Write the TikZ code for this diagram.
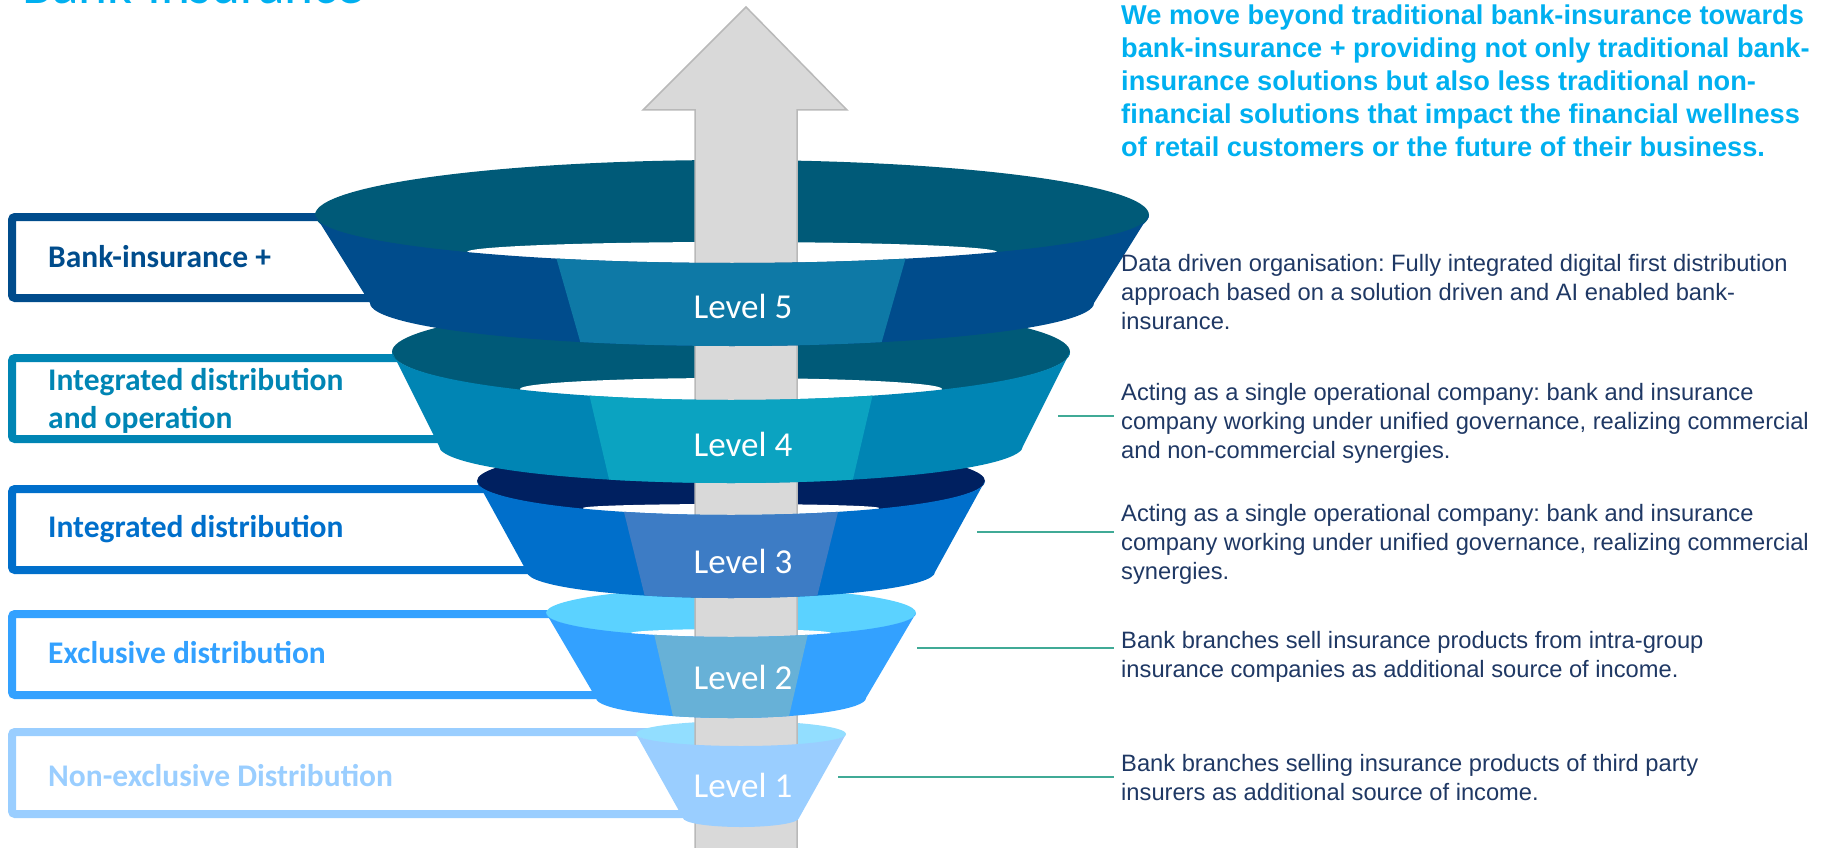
\documentclass[tikz,border=0pt]{standalone}
\usepackage{fontspec}
\setmainfont{Liberation Sans}
\newfontfamily\carlito{Carlito}
\frenchspacing
\definecolor{skyblue}{RGB}{0,176,240}
\definecolor{descnavy}{RGB}{31,56,100}
\definecolor{linkteal}{RGB}{64,170,150}
\definecolor{arrowfill}{RGB}{217,217,217}
\definecolor{arrowline}{RGB}{185,185,185}
\definecolor{topfive}{RGB}{0,90,120}
\definecolor{sidefive}{RGB}{0,76,140}
\definecolor{midfive}{RGB}{14,121,166}
\definecolor{topfour}{RGB}{0,90,120}
\definecolor{sidefour}{RGB}{0,133,180}
\definecolor{midfour}{RGB}{11,163,193}
\definecolor{topthree}{RGB}{0,32,96}
\definecolor{sidethree}{RGB}{0,111,203}
\definecolor{midthree}{RGB}{61,124,197}
\definecolor{toptwo}{RGB}{91,210,255}
\definecolor{sidetwo}{RGB}{51,161,255}
\definecolor{midtwo}{RGB}{103,177,215}
\definecolor{topone}{RGB}{146,222,255}
\definecolor{sideone}{RGB}{154,206,255}
\begin{document}
\begin{tikzpicture}[x=1pt,y=-1pt,
  lvlbox/.style={line width=8pt,rounded corners=3pt},
  lvltext/.style={anchor=base west,inner sep=0pt,align=left,font=\carlito\bfseries\fontsize{31.5}{38}\selectfont},
  lvlname/.style={anchor=base,inner sep=0pt,text=white,font=\carlito\fontsize{35}{42}\selectfont},
  desc/.style={anchor=base west,inner sep=0pt,align=left,text=descnavy,font=\fontsize{23.7}{29}\selectfont},
  link/.style={draw=linkteal,line width=1.5pt}]
 \useasboundingbox (0,0) rectangle (1834,848);
 \clip (0,0) rectangle (1834,848);
 % boxes behind the funnel
 \draw[lvlbox,draw=sidefive](12,217) rectangle (700,298);
 \draw[lvlbox,draw=sidefour](12,358) rectangle (700,439);
 \draw[lvlbox,draw=sidethree](12,489) rectangle (700,570);
 \draw[lvlbox,draw=sidetwo](12,614) rectangle (700,695);
 \draw[lvlbox,draw=sideone](12,732) rectangle (700,814);
 % tops of the rings
 \fill[topfive](732,215) ellipse [x radius=417pt,y radius=55pt];
 \fill[white](467,252) arc[start angle=180,end angle=0,x radius=265pt,y radius=10pt] arc[start angle=0,end angle=-180,x radius=265pt,y radius=19pt] -- cycle;
 \fill[topfour](731,352) ellipse [x radius=339pt,y radius=49pt];
 \fill[white](520,389) arc[start angle=180,end angle=0,x radius=211pt,y radius=11pt] arc[start angle=0,end angle=-180,x radius=211pt,y radius=19pt] -- cycle;
 \fill[topthree](731,481) ellipse [x radius=254pt,y radius=35pt];
 \fill[white](583,508) arc[start angle=180,end angle=0,x radius=148pt,y radius=4pt] arc[start angle=0,end angle=-180,x radius=148pt,y radius=15pt] -- cycle;
 \fill[toptwo](731,613) ellipse [x radius=185pt,y radius=25pt];
 \fill[white](631,633) arc[start angle=180,end angle=0,x radius=100pt,y radius=4pt] arc[start angle=0,end angle=-180,x radius=100pt,y radius=12pt] -- cycle;
 \fill[topone](741,734) ellipse [x radius=105pt,y radius=13pt];
 % arrow
 \filldraw[fill=arrowfill,draw=arrowline,line width=1.5pt](746,7) -- (847,110) -- (797,110) -- (797,860) -- (695,860) -- (695,110) -- (643,110) -- cycle;
 % fronts of the rings
 \fill[sidefive](315,215) -- (370,303) arc[start angle=180,end angle=360,x radius=362pt,y radius=43pt] -- (1149,215) arc[start angle=0,end angle=-180,x radius=417pt,y radius=48pt] -- cycle;
 \begin{scope}
 \clip(315,215) -- (370,303) arc[start angle=180,end angle=360,x radius=362pt,y radius=43pt] -- (1149,215) arc[start angle=0,end angle=-180,x radius=417pt,y radius=48pt] -- cycle;
 \fill[midfive](554,250) -- (908,250) -- (878,355) -- (584,355) -- cycle;
 \end{scope}
 \fill[sidefour](392,352) -- (439,446) arc[start angle=180,end angle=360,x radius=292pt,y radius=37pt] -- (1070,352) arc[start angle=0,end angle=-180,x radius=339pt,y radius=48pt] -- cycle;
 \begin{scope}
 \clip(392,352) -- (439,446) arc[start angle=180,end angle=360,x radius=292pt,y radius=37pt] -- (1070,352) arc[start angle=0,end angle=-180,x radius=339pt,y radius=48pt] -- cycle;
 \fill[midfour](587,385) -- (875,385) -- (850,492) -- (612,492) -- cycle;
 \end{scope}
 \fill[sidethree](477,481) -- (527,572) arc[start angle=180,end angle=360,x radius=204pt,y radius=26pt] -- (985,481) arc[start angle=0,end angle=-180,x radius=254pt,y radius=34pt] -- cycle;
 \begin{scope}
 \clip(477,481) -- (527,572) arc[start angle=180,end angle=360,x radius=204pt,y radius=26pt] -- (985,481) arc[start angle=0,end angle=-180,x radius=254pt,y radius=34pt] -- cycle;
 \fill[midthree](621,500) -- (841,500) -- (815,605) -- (647,605) -- cycle;
 \end{scope}
 \fill[sidetwo](546,613) -- (596,698) arc[start angle=180,end angle=360,x radius=135pt,y radius=20pt] -- (916,613) arc[start angle=0,end angle=-180,x radius=185pt,y radius=24pt] -- cycle;
 \begin{scope}
 \clip(546,613) -- (596,698) arc[start angle=180,end angle=360,x radius=135pt,y radius=20pt] -- (916,613) arc[start angle=0,end angle=-180,x radius=185pt,y radius=24pt] -- cycle;
 \fill[midtwo](652,625) -- (810,625) -- (787,725) -- (675,725) -- cycle;
 \end{scope}
 \fill[sideone](636,734) -- (683,818) arc[start angle=180,end angle=360,x radius=58pt,y radius=9pt] -- (846,734) arc[start angle=0,end angle=-180,x radius=105pt,y radius=12pt] -- cycle;
 % level names
 \node[lvlname](lvlfive) at (743,318) {Level 5};
 \node[lvlname](lvlfour) at (743,456) {Level 4};
 \node[lvlname](lvlthree) at (743,573) {Level 3};
 \node[lvlname](lvltwo) at (743,689) {Level 2};
 \node[lvlname](lvlone) at (743,797) {Level 1};
 % labels in the boxes (base = last line)
 \node[lvltext,text=sidefive](bankplus) at (48,267) {Bank-insurance +};
 \node[lvltext,text=sidefour](intop) at (48,428) {Integrated distribution\\and operation};
 \node[lvltext,text=sidethree](intdist) at (48,537) {Integrated distribution};
 \node[lvltext,text=sidetwo](excl) at (48,663) {Exclusive distribution};
 \node[lvltext,text=sideone](nonexcl) at (48,786) {Non-exclusive Distribution};
 % title and texts on the right
 \node[anchor=base west,inner sep=0pt,text=skyblue,font=\carlito\fontsize{55}{66}\selectfont](title) at (22,4) {Bank-Insurance};
 \node[anchor=base west,inner sep=0pt,align=left,text=skyblue,font=\bfseries\fontsize{27.2}{33}\selectfont](intro) at (1121,157) {We move beyond traditional bank-insurance towards\\bank-insurance + providing not only traditional bank-\\insurance solutions but also less traditional non-\\financial solutions that impact the financial wellness\\of retail customers or the future of their business.};
 \node[desc](descfive) at (1121,329) {Data driven organisation: Fully integrated digital first distribution\\approach based on a solution driven and AI enabled bank-\\insurance.};
 \node[desc](descfour) at (1121,458) {Acting as a single operational company: bank and insurance\\company working under unified governance, realizing commercial\\and non-commercial synergies.};
 \node[desc](descthree) at (1121,579) {Acting as a single operational company: bank and insurance\\company working under unified governance, realizing commercial\\synergies.};
 \node[desc](desctwo) at (1121,677) {Bank branches sell insurance products from intra-group\\insurance companies as additional source of income.};
 \node[desc](descone) at (1121,800) {Bank branches selling insurance products of third party\\insurers as additional source of income.};
 % connectors
 \coordinate (tipfour) at (1058,416);
 \coordinate (tipthree) at (977,532);
 \coordinate (tiptwo) at (917,648);
 \coordinate (tipone) at (838,777);
 \draw[link](tipfour) -- ([xshift=-7pt]descfour.west |- tipfour);
 \draw[link](tipthree) -- ([xshift=-7pt]descthree.west |- tipthree);
 \draw[link](tiptwo) -- ([xshift=-7pt]desctwo.west |- tiptwo);
 \draw[link](tipone) -- ([xshift=-7pt]descone.west |- tipone);
\end{tikzpicture}
\end{document}
